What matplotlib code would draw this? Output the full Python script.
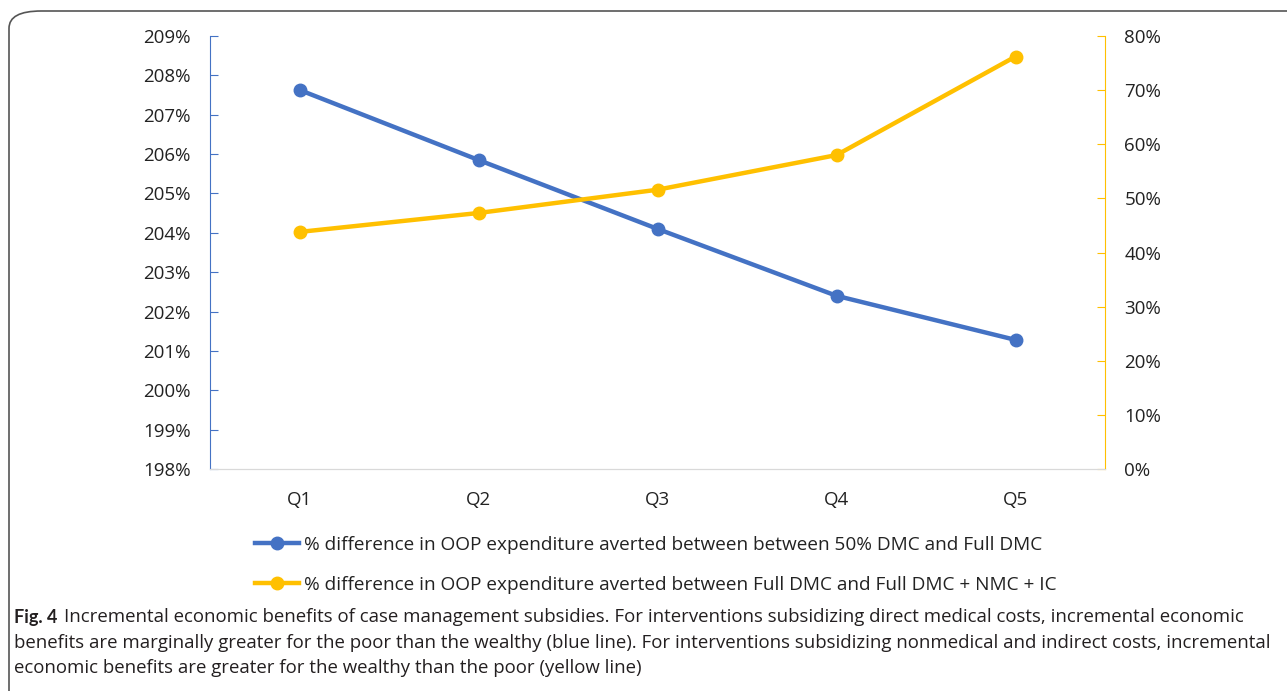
import matplotlib.pyplot as plt
from matplotlib.patches import FancyBboxPatch
from matplotlib.ticker import FuncFormatter

quintis = ["Q1", "Q2", "Q3", "Q4", "Q5"]
dif_dmc = [207.63, 205.85, 204.10, 202.40, 201.28]
dif_nmc = [43.8, 47.3, 51.6, 58.0, 76.2]
rotulos = ["% difference in OOP expenditure averted between between 50% DMC and Full DMC",
           "% difference in OOP expenditure averted between Full DMC and Full DMC + NMC + IC"]

azul = "#4472C4"
amarelo = "#FFC000"
plt.rcParams["font.family"] = ["Open Sans", "DejaVu Sans"]

fig = plt.figure(figsize=(12.87, 6.91), dpi=100)

# moldura arredondada da figura
moldura = FancyBboxPatch((9 / 1287, -0.05), 1.1, 1 - 11 / 691 + 0.05,
                         boxstyle="round,pad=0,rounding_size=0.025",
                         transform=fig.transFigure, facecolor="none",
                         edgecolor="#555555", linewidth=1.2, zorder=0)
fig.patches.append(moldura)

ax = fig.add_axes([210 / 1287, 1 - 469 / 691, 895 / 1287, 433 / 691])
ax2 = ax.twinx()

x = range(len(quintis))
l1, = ax.plot(x, dif_dmc, color=azul, lw=3.2, marker="o", ms=9, label=rotulos[0])
l2, = ax2.plot(x, dif_nmc, color=amarelo, lw=3.2, marker="o", ms=9, label=rotulos[1])

ax.set_xlim(-0.5, 4.5)
ax.set_ylim(198, 209)
ax.set_yticks(range(198, 210))
ax2.set_ylim(0, 80)
ax2.set_yticks(range(0, 81, 10))
ax.set_xticks(list(x))
ax.set_xticklabels(quintis)

pct = FuncFormatter(lambda v, p: f"{v:.0f}%")
ax.yaxis.set_major_formatter(pct)
ax2.yaxis.set_major_formatter(pct)

for a in (ax, ax2):
    a.spines["top"].set_visible(False)
    a.spines["bottom"].set_color("#D9D9D9")
    a.spines["left"].set_visible(False)
    a.spines["right"].set_visible(False)
ax.spines["left"].set_visible(True)
ax.spines["left"].set_color(azul)
ax2.spines["right"].set_visible(True)
ax2.spines["right"].set_color(amarelo)

ax.tick_params(axis="y", direction="in", length=6, color=azul, labelsize=13.5, pad=14, labelcolor="#222222")
ax2.tick_params(axis="y", direction="in", length=6, color=amarelo, labelsize=13.5, pad=14, labelcolor="#222222")
ax.tick_params(axis="x", length=0, labelsize=13.5, pad=16, labelcolor="#222222")

fig.legend(handles=[l1, l2], loc="center", bbox_to_anchor=(656 / 1287, 1 - 565 / 691),
           frameon=False, fontsize=13.7, handlelength=2.3, labelspacing=1.15,
           handletextpad=0.3, labelcolor="#222222")

cor_leg = "#231F20"
fig.text(14 / 1287, 1 - 617 / 691, "Fig. 4", fontsize=13, fontweight="bold",
         family=["Lato", "DejaVu Sans"], color=cor_leg, va="center")
fig.text(64 / 1287, 1 - 617 / 691,
         "Incremental economic benefits of case management subsidies. For interventions subsidizing direct medical costs, incremental economic",
         fontsize=13.4, color=cor_leg, va="center")
fig.text(14 / 1287, 1 - 643 / 691,
         "benefits are marginally greater for the poor than the wealthy (blue line). For interventions subsidizing nonmedical and indirect costs, incremental",
         fontsize=13.4, color=cor_leg, va="center")
fig.text(14 / 1287, 1 - 668 / 691,
         "economic benefits are greater for the wealthy than the poor (yellow line)",
         fontsize=13.4, color=cor_leg, va="center")

fig.savefig("out.png", dpi=100)
